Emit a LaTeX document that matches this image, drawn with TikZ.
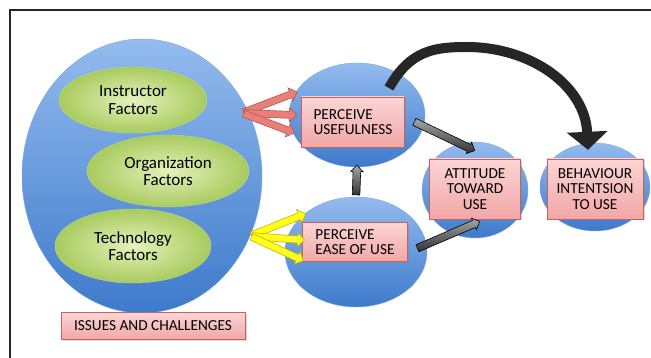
\documentclass[tikz,border=0pt]{standalone}
\usepackage{fontspec}
\setmainfont{Carlito}
\usetikzlibrary{shapes.geometric,shapes.arrows,shadows,calc,arrows.meta}

\definecolor{skyfill}{HTML}{93BBEE}
\definecolor{deepfill}{HTML}{3E7ACB}
\definecolor{skyrim}{HTML}{7FA8E0}
\definecolor{leaftop}{HTML}{E6F1BC}
\definecolor{leafbot}{HTML}{A8CB5E}
\definecolor{leafrim}{HTML}{BFD889}
\definecolor{rosetop}{HTML}{FBD5D5}
\definecolor{rosebot}{HTML}{F2A6A6}
\definecolor{roserim}{HTML}{C9625F}
\definecolor{coralfill}{HTML}{E8807A}
\definecolor{coralrim}{HTML}{C0504D}
\definecolor{lemonfill}{HTML}{FFFF1A}
\definecolor{lemonrim}{HTML}{C8B000}

% fat block arrow: style, name, tail, tip
\newcommand{\fatarrow}[4]{%
  \path let \p1=(#3), \p2=(#4),
    \n1={atan2(\y2-\y1,\x2-\x1)}, \n2={veclen(\x2-\x1,\y2-\y1)} in
    node[#1, rotate=\n1, minimum height=\n2] (#2) at ($(\p1)!0.5!(\p2)$) {};}

\begin{document}
\begin{tikzpicture}[x=1pt, y=-1pt,
    bubble/.style={ellipse, draw=skyrim, top color=skyfill, bottom color=deepfill, inner sep=0pt},
    factor/.style={ellipse, draw=leafrim, inner color=leaftop, outer color=leafbot, inner sep=0pt, align=center, font=\fontsize{17}{17.5}\selectfont},
    stage/.style={rectangle, draw=roserim, top color=rosetop, bottom color=rosebot, inner sep=0pt, align=center, font=\fontsize{15.3}{15.8}\selectfont, drop shadow={opacity=0.3, shadow xshift=1.5pt, shadow yshift=-1.5pt}},
    fat/.style={single arrow, inner xsep=0pt, inner ysep=3.2pt, minimum width=0pt, single arrow head extend=3.5pt, single arrow head indent=0pt, line width=0.6pt},
    redfat/.style={fat, draw=coralrim, fill=coralfill},
    yellowfat/.style={fat, draw=lemonrim, fill=lemonfill},
    greyfat/.style={fat, draw=black, top color=black!35, bottom color=black!80, inner ysep=3.5pt, single arrow head extend=2.5pt},
]
\useasboundingbox (0,0) rectangle (651,358);

% frame
\draw[line width=1.2pt, black!85] (10,358) -- (10,10) -- (651,10);

% issues and challenges
\node[bubble, minimum width=240, minimum height=274] (issuesblob) at (142,176) {};
\node[factor, minimum width=148, minimum height=66] (instr) at (133,100) {Instructor\\Factors};
\node[factor, minimum width=162, minimum height=72] (organ) at (168,171) {Organization\\Factors};
\node[factor, minimum width=156, minimum height=74] (techno) at (133,246) {Technology\\Factors};
\node[stage, minimum width=184, minimum height=27] (issues) at (153,326) {ISSUES AND CHALLENGES};

% model bubbles
\node[bubble, minimum width=136, minimum height=104] (useful) at (357,115) {};
\node[bubble, minimum width=142, minimum height=110] (ease) at (356,252) {};
\node[bubble, minimum width=106, minimum height=96] (attitude) at (475,190) {};
\node[bubble, minimum width=110, minimum height=88] (behav) at (595,187) {};

% model boxes
\node[stage, align=left, minimum width=103, minimum height=50] (usefulbox) at (353,122) {PERCEIVE\\USEFULNESS};
\node[stage, align=left, minimum width=105, minimum height=39] (easebox) at (355,242) {PERCEIVE\\EASE OF USE};
\node[stage, minimum width=91, minimum height=60] (attbox) at (475,189) {ATTITUDE\\TOWARD\\USE};
\node[stage, minimum width=96, minimum height=60] (behavbox) at (595,189) {BEHAVIOUR\\INTENTSION\\TO USE};

% fan tails
\coordinate (redtail) at ($(issuesblob)+(100,-63)$);
\coordinate (yelltail) at ($(issuesblob)+(108,60)$);

% red arrows
\fatarrow{redfat}{red1}{redtail}{useful.160}
\fatarrow{redfat}{red2}{redtail}{$(useful.west)+(6,0)$}
\fatarrow{redfat}{red3}{redtail}{useful.195}

% yellow arrows
\fatarrow{yellowfat}{yell1}{yelltail}{ease.144}
\fatarrow{yellowfat}{yell2}{yelltail}{$(ease.west)+(18,-12)$}
\fatarrow{yellowfat}{yell3}{yelltail}{$(ease.west)+(17,8)$}

% grey arrows
\fatarrow{greyfat}{grey1}{ease.north}{useful.south}
\fatarrow{greyfat}{grey2}{$(usefulbox.east)+(8,-1)$}{$(attitude.north)+(-2,8)$}
\fatarrow{greyfat}{grey3}{$(easebox.east)+(8,7)$}{$(attbox.south)+(3,3)$}

% curved arrow
\coordinate (arcstart) at ($(useful)+(32,-27)$);
\coordinate (arctop) at (467,47);
\draw[line width=10pt, black!85, -{Triangle[length=18pt, width=40pt]}]
  (arcstart) .. controls (410,50) and (435,47) .. (arctop)
  .. controls (530,47) and (585,85) .. ($(behav.north)+(-7,7)$);

\end{tikzpicture}
\end{document}
